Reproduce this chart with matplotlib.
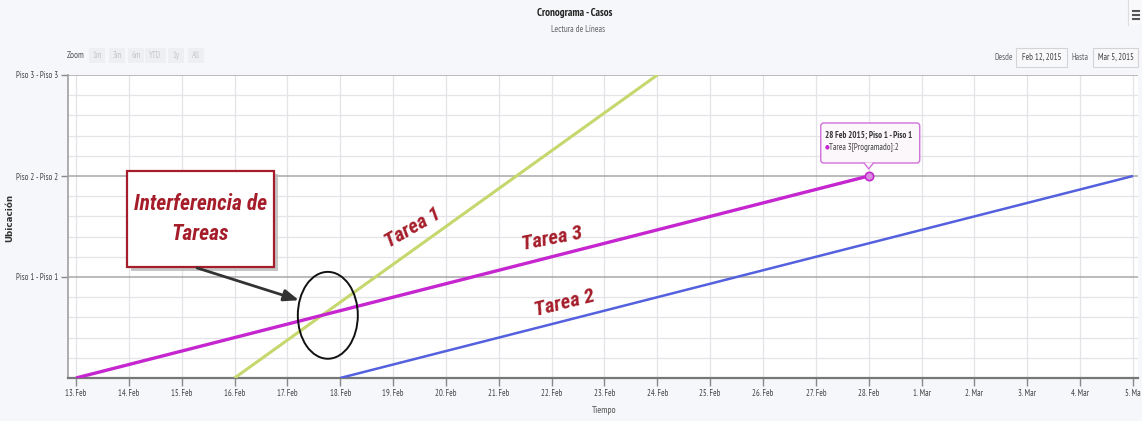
import matplotlib
matplotlib.use("Agg")
import matplotlib.pyplot as plt
import matplotlib.dates as mdates
from matplotlib.patches import Rectangle, Ellipse, Polygon, FancyBboxPatch
from matplotlib.transforms import Affine2D
import numpy as np
import datetime as dt

# ---------------- data ----------------
tarea1_fechas = ["2015-02-16", "2015-02-24"]
tarea1_valores = [0, 3]
tarea2_fechas = ["2015-02-18", "2015-03-05"]
tarea2_valores = [0, 2]
tarea3_fechas = ["2015-02-13", "2015-02-28"]
tarea3_valores = [0, 2]

tick_fechas = ["2015-02-13", "2015-02-14", "2015-02-15", "2015-02-16", "2015-02-17",
               "2015-02-18", "2015-02-19", "2015-02-20", "2015-02-21", "2015-02-22",
               "2015-02-23", "2015-02-24", "2015-02-25", "2015-02-26", "2015-02-27",
               "2015-02-28", "2015-03-01", "2015-03-02", "2015-03-03", "2015-03-04",
               "2015-03-05"]
tick_etiquetas = ["13. Feb", "14. Feb", "15. Feb", "16. Feb", "17. Feb", "18. Feb",
                  "19. Feb", "20. Feb", "21. Feb", "22. Feb", "23. Feb", "24. Feb",
                  "25. Feb", "26. Feb", "27. Feb", "28. Feb", "1. Mar", "2. Mar",
                  "3. Mar", "4. Mar", "5. Ma"]
y_ticks = [1, 2, 3]
y_etiquetas = ["Piso 1 - Piso 1", "Piso 2 - Piso 2", "Piso 3 - Piso 3"]

# ---------------- fonts ----------------
ui_font = ["PT Sans Narrow", "DejaVu Sans"]
note_font = ["Roboto Condensed", "DejaVu Sans"]
plt.rcParams["font.family"] = ui_font


def to_num(s):
    return mdates.date2num(dt.datetime.strptime(s, "%Y-%m-%d"))


x1 = [to_num(d) for d in tarea1_fechas]
x2 = [to_num(d) for d in tarea2_fechas]
x3 = [to_num(d) for d in tarea3_fechas]
xt = [to_num(d) for d in tick_fechas]

W, H = 1142, 421
fig = plt.figure(figsize=(W / 100, H / 100), dpi=100)
fig.patch.set_facecolor("#f6f7fa")

ax = fig.add_axes([68 / W, 1 - 378 / H, (1138 - 68) / W, (378 - 75) / H])
ax.set_facecolor("white")

ax.set_xlim(xt[0] - 0.151, xt[-1] + 0.095)
ax.set_ylim(0, 3)

# grid
for x in xt:
    ax.axvline(x, color="#e3e3e8", lw=0.9, zorder=0)
for y in np.arange(0.2, 3.0, 0.2):
    if abs(y - round(y)) > 1e-6:
        ax.axhline(y, color="#e3e3e8", lw=0.9, zorder=0)
for y in y_ticks:
    ax.axhline(y, color="#a8a8a8", lw=1.1, zorder=0.5)

# series
ax.plot(x1, tarea1_valores, color="#c5d86d", lw=2.2, zorder=3, solid_capstyle="butt")
ax.plot(x3, tarea3_valores, color="#c526cf", lw=2.4, zorder=4, solid_capstyle="butt")
ax.plot(x2, tarea2_valores, color="#5461de", lw=1.8, zorder=3, solid_capstyle="butt")
ax.plot([x3[-1]], [tarea3_valores[-1]], marker="o", ms=6, color="#d98de0",
        mec="#c526cf", mew=1.2, zorder=6, clip_on=False)

# axes styling
for s in ["top", "right"]:
    ax.spines[s].set_visible(False)
ax.spines["left"].set_color("#a0a0a0")
ax.spines["left"].set_linewidth(1.2)
ax.spines["bottom"].set_color("#777777")
ax.spines["bottom"].set_linewidth(1.6)

ax.set_xticks(xt)
ax.set_xticklabels(tick_etiquetas, fontsize=6.2, color="#444444")
ax.tick_params(axis="x", length=6, width=1, color="#8a8a8a", pad=2)
ax.set_yticks(y_ticks)
ax.set_yticklabels(y_etiquetas, fontsize=6.2, color="#444444")
ax.tick_params(axis="y", length=5, width=1, color="#8a8a8a", pad=2)

ax.set_xlabel("Tiempo", fontsize=6.8, color="#555555")
ax.xaxis.set_label_coords((604 - 68) / (1138 - 68), (378 - 406) / (378 - 75))
ax.set_ylabel("Ubicación", fontsize=6.3, color="#333333", fontweight="bold",
              family=["DejaVu Sans"])
ax.yaxis.set_label_coords((14.5 - 68) / (1138 - 68), (378 - 218) / (378 - 75))

# ---------------- annotations ----------------
red = "#a51d2a"
d0 = xt[0]
ann_font = dict(family=note_font, style="italic", weight="bold", color=red)

ax.text(d0 + 6.38, 1.485, "Tarea 1", fontsize=15, rotation=30, ha="center", va="center",
        zorder=7, **ann_font)
ax.text(d0 + 9.01, 1.376, "Tarea 3", fontsize=15, rotation=11, ha="center", va="center",
        zorder=7, **ann_font)
ax.text(d0 + 9.25, 0.74, "Tarea 2", fontsize=15, rotation=14, ha="center", va="center",
        zorder=7, **ann_font)

# callout box with shadow
bx0, bx1 = d0 + 0.965, d0 + 3.746
by0, by1 = 1.099, 2.05
ax.add_patch(Rectangle((bx0 + 0.07, by0 - 0.035), bx1 - bx0, by1 - by0, facecolor="#bbbbbb",
                       edgecolor="none", zorder=7, alpha=0.85))
ax.add_patch(Rectangle((bx0, by0), bx1 - bx0, by1 - by0, facecolor="white",
                       edgecolor=red, lw=1.6, zorder=8))
ax.text((bx0 + bx1) / 2, (by0 + by1) / 2, "Interferencia de\nTareas", fontsize=15.5,
        ha="center", va="center", linespacing=1.5, zorder=9, **ann_font)

# ellipse around the crossing of Tarea 1 and Tarea 3
s1 = (tarea1_valores[1] - tarea1_valores[0]) / (x1[1] - x1[0])
s3 = (tarea3_valores[1] - tarea3_valores[0]) / (x3[1] - x3[0])
xc = (s1 * x1[0] - s3 * x3[0]) / (s1 - s3)
yc = s3 * (xc - x3[0])
ax.add_patch(Ellipse((xc + 0.11, yc), 1.135, 0.86, facecolor="none",
                     edgecolor="#111111", lw=1.4, zorder=9))

ax.annotate("", xy=(d0 + 4.22, 0.77), xytext=(d0 + 2.29, 1.09),
            arrowprops=dict(arrowstyle="-|>,head_length=0.9,head_width=0.35",
                            color="#333333", lw=2.0, shrinkA=0, shrinkB=0), zorder=9)

# tooltip on the last point of Tarea 3
fig.canvas.draw()
px, py = ax.transData.transform((x3[-1], tarea3_valores[-1]))
off = Affine2D().translate(px, py)
fig.add_artist(FancyBboxPatch((-48, 13), 99, 40, boxstyle="round,pad=0,rounding_size=3",
                              facecolor="#fbf7fb", edgecolor="#d070d8", lw=1.0,
                              transform=off, zorder=10, clip_on=False))
fig.add_artist(Polygon([(-5, 13.5), (0, 7), (5, 13.5)], closed=False, facecolor="#fbf7fb",
                       edgecolor="#d070d8", lw=1.0, transform=off, zorder=11))
fig.text((px - 44) / W, (py + 41) / H, "28 Feb 2015; Piso 1 - Piso 1", fontsize=6.3,
         fontweight="bold", color="#333333", ha="left", va="center", zorder=12)
fig.text((px - 44) / W, (py + 29) / H, "●", fontsize=4, color="#c526cf",
         family="DejaVu Sans", ha="left", va="center", zorder=12)
fig.text((px - 40) / W, (py + 29) / H, "Tarea 3[Programado]:2", fontsize=6.3,
         color="#444444", ha="left", va="center", zorder=12)

# ---------------- header ----------------
fig.text(575 / W, 1 - 13 / H, "Cronograma - Casos", fontsize=7.8, fontweight="bold",
         color="#222222", ha="center", va="center")
fig.text(578 / W, 1 - 30 / H, "Lectura de Líneas", fontsize=6.4, color="#666666",
         ha="center", va="center")

fig.text(67 / W, 1 - 56 / H, "Zoom", fontsize=6.5, color="#555555", ha="left", va="center")
zoom_labels = ["1m", "3m", "6m", "YTD", "1y", "All"]
zoom_x = [89, 109, 128, 145, 168, 188]
zoom_w = [16, 16, 16, 21, 16, 16]
for lab, x, w in zip(zoom_labels, zoom_x, zoom_w):
    fig.patches.append(Rectangle((x / W, 1 - 63 / H), w / W, 15 / H,
                                 transform=fig.transFigure, facecolor="#eeeff3",
                                 edgecolor="none", zorder=1))
    fig.text((x + w / 2) / W, 1 - 56 / H, lab, fontsize=6.2, color="#c6c6cb",
             ha="center", va="center", zorder=2)

fig.text(1013 / W, 1 - 57 / H, "Desde", fontsize=6.3, color="#666666", ha="right", va="center")
fig.patches.append(Rectangle((1016 / W, 1 - 67 / H), 51 / W, 19 / H, transform=fig.transFigure,
                             facecolor="#f8f8fa", edgecolor="#d4d4d8", lw=0.8))
fig.text(1041.5 / W, 1 - 57 / H, "Feb 12, 2015", fontsize=6.3, color="#444444", ha="center",
         va="center")
fig.text(1088 / W, 1 - 57 / H, "Hasta", fontsize=6.3, color="#666666", ha="right", va="center")
fig.patches.append(Rectangle((1093 / W, 1 - 67 / H), 45 / W, 19 / H, transform=fig.transFigure,
                             facecolor="#f8f8fa", edgecolor="#d4d4d8", lw=0.8))
fig.text(1115.5 / W, 1 - 57 / H, "Mar 5, 2015", fontsize=6.3, color="#444444", ha="center",
         va="center")

# menu icon
fig.patches.append(Rectangle((1128 / W, 1 - 25 / H), 14 / W, 25 / H, transform=fig.transFigure,
                             facecolor="#f9f9fb", edgecolor="none"))
fig.lines.append(plt.Line2D([1128 / W, 1128 / W], [1 - 25 / H, 1.0],
                            transform=fig.transFigure, color="#dddde0", lw=0.8))
for yy in [11, 15, 19]:
    fig.lines.append(plt.Line2D([1133 / W, 1139 / W], [1 - yy / H, 1 - yy / H],
                                transform=fig.transFigure, color="#555555", lw=1.5))

fig.savefig("out.png", dpi=100, facecolor=fig.get_facecolor())
